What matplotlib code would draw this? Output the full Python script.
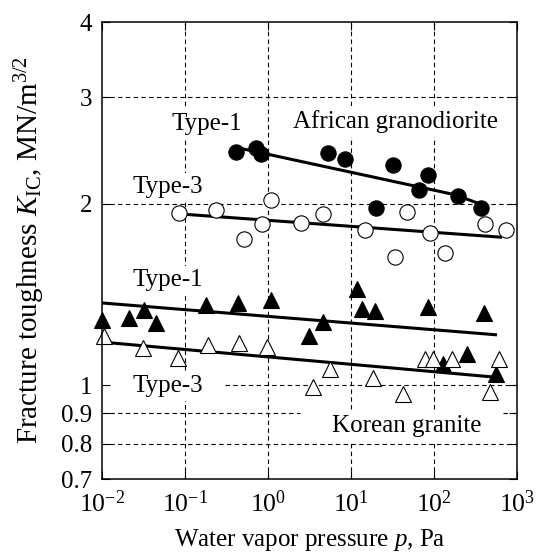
import matplotlib
matplotlib.use("Agg")
import matplotlib.pyplot as plt

plt.rcParams.update({
    "font.family": "Liberation Serif",
    "mathtext.fontset": "custom",
    "mathtext.rm": "Liberation Serif",
    "mathtext.it": "Liberation Serif:italic",
    "mathtext.bf": "Liberation Serif:bold",
})

# African granodiorite, Type-1 (filled circles)
afr1_p = [0.41, 0.72, 0.82, 5.3, 8.5, 20, 32, 66, 85, 195, 368]
afr1_k = [2.44, 2.47, 2.42, 2.43, 2.37, 1.97, 2.32, 2.11, 2.23, 2.06, 1.97]
afr1_fit_p = [0.41, 179, 390]
afr1_fit_k = [2.48, 2.07, 1.99]

# African granodiorite, Type-3 (open circles)
afr3_p = [0.085, 0.236, 0.51, 0.85, 1.09, 2.5, 4.6, 14.8, 34, 47, 90, 136, 411, 737]
afr3_k = [1.93, 1.95, 1.75, 1.85, 2.03, 1.86, 1.92, 1.81, 1.63, 1.94, 1.79, 1.66, 1.85, 1.81]
afr3_fit_p = [0.106, 660]
afr3_fit_k = [1.92, 1.76]

# Korean granite, Type-1 (filled triangles)
kor1_p = [0.01, 0.0211, 0.032, 0.0448, 0.179, 0.436, 1.09, 3.12, 4.6, 11.8,
          13.6, 19.5, 85, 128, 250, 400, 558]
kor1_k = [1.285, 1.294, 1.334, 1.27, 1.36, 1.37, 1.387, 1.21, 1.274, 1.445,
          1.34, 1.33, 1.35, 1.086, 1.127, 1.32, 1.045]
kor1_fit_p = [0.01, 574]
kor1_fit_k = [1.37, 1.213]

# Korean granite, Type-3 (open triangles)
kor3_p = [0.0106, 0.0312, 0.0824, 0.189, 0.448, 0.97, 3.48, 5.6, 18.4, 42,
          78, 97, 165, 473, 607]
kor3_k = [1.21, 1.154, 1.11, 1.167, 1.177, 1.159, 0.995, 1.065, 1.03, 0.968,
          1.107, 1.107, 1.107, 0.976, 1.107]
kor3_fit_p = [0.01, 514]
kor3_fit_k = [1.18, 1.033]

x_ticks = [1e-2, 1e-1, 1e0, 1e1, 1e2, 1e3]
x_ticklabels = [r"$10^{-2}$", r"$10^{-1}$", r"$10^{0}$", r"$10^{1}$", r"$10^{2}$", r"$10^{3}$"]
y_ticks = [0.7, 0.8, 0.9, 1, 2, 3, 4]
y_ticklabels = ["0.7", "0.8", "0.9", "1", "2", "3", "4"]

fig = plt.figure(figsize=(5.39, 5.53), dpi=100)
ax = fig.add_axes([0.1892, 0.1338, 0.770, 0.8264])
ax.set_xscale("log")
ax.set_yscale("log")
ax.set_xlim(1e-2, 1e3)
ax.set_ylim(0.7, 4)

# dashed reference lines
grid_kw = dict(color="k", lw=0.8, linestyle=(0, (4, 3)), zorder=1)
for xv in [0.1, 1, 10, 100]:
    ax.plot([xv, xv], [0.7, 4], **grid_kw)
for yv in [0.8, 2, 3]:
    ax.plot([1e-2, 1e3], [yv, yv], **grid_kw)
ax.plot([0.30, 1e3], [1, 1], **grid_kw)
ax.plot([1e-2, 2.43], [0.9, 0.9], **grid_kw)
ax.plot([678, 1e3], [0.9, 0.9], **grid_kw)

# regression lines
line_kw = dict(color="k", lw=2.2, zorder=3, solid_capstyle="butt")
ax.plot(afr1_fit_p, afr1_fit_k, **line_kw)
ax.plot(afr3_fit_p, afr3_fit_k, **line_kw)
ax.plot(kor1_fit_p, kor1_fit_k, **line_kw)
ax.plot(kor3_fit_p, kor3_fit_k, **line_kw)

# measurements
ax.plot(afr1_p, afr1_k, "o", ms=11, mfc="k", mec="k", mew=0.8, zorder=4, clip_on=False)
ax.plot(afr3_p, afr3_k, "o", ms=11, mfc="white", mec="k", mew=0.8, zorder=4, clip_on=False)
ax.plot(kor1_p, kor1_k, "^", ms=11, mfc="k", mec="k", mew=0.8, zorder=4, clip_on=False)
ax.plot(kor3_p, kor3_k, "^", ms=11, mfc="white", mec="k", mew=0.8, zorder=4, clip_on=False)

# annotations
box = dict(boxstyle="square,pad=0.15", fc="white", ec="none")
txt_kw = dict(fontsize=18, ha="left", va="baseline", bbox=box, zorder=2)
ax.text(0.0697, 2.65, "Type-1", **txt_kw)
ax.text(2.0, 2.67, "African granodiorite", **txt_kw)
ax.text(0.0236, 2.08, "Type-3", **txt_kw)
ax.text(0.0230, 1.46, "Type-1", **txt_kw)
ax.text(0.0236, 0.976, "Type-3", **txt_kw)
ax.text(5.9, 0.838, "Korean granite", **txt_kw)

ax.xaxis.set_major_locator(matplotlib.ticker.FixedLocator(x_ticks))
ax.xaxis.set_minor_locator(matplotlib.ticker.NullLocator())
ax.set_xticklabels(x_ticklabels)
ax.yaxis.set_major_locator(matplotlib.ticker.FixedLocator(y_ticks))
ax.yaxis.set_minor_locator(matplotlib.ticker.NullLocator())
ax.set_yticklabels(y_ticklabels)
ax.tick_params(which="both", direction="in", top=True, right=True,
               length=6, width=0.8)
ax.tick_params(axis="x", labelsize=18.5, pad=8)
ax.tick_params(axis="y", labelsize=18, pad=7)

for sp in ax.spines.values():
    sp.set_linewidth(1.1)
    sp.set_zorder(5)

ax.set_ylabel(r"Fracture toughness $K_{\rm IC}$, MN/m$^{3/2}$", fontsize=21)
ax.set_xlabel(r"Water vapor pressure $p$, Pa", fontsize=18)
ax.yaxis.set_label_coords(-0.132, 0.5)
ax.xaxis.set_label_coords(0.5, -0.106)

fig.savefig("out.png", dpi=100)
